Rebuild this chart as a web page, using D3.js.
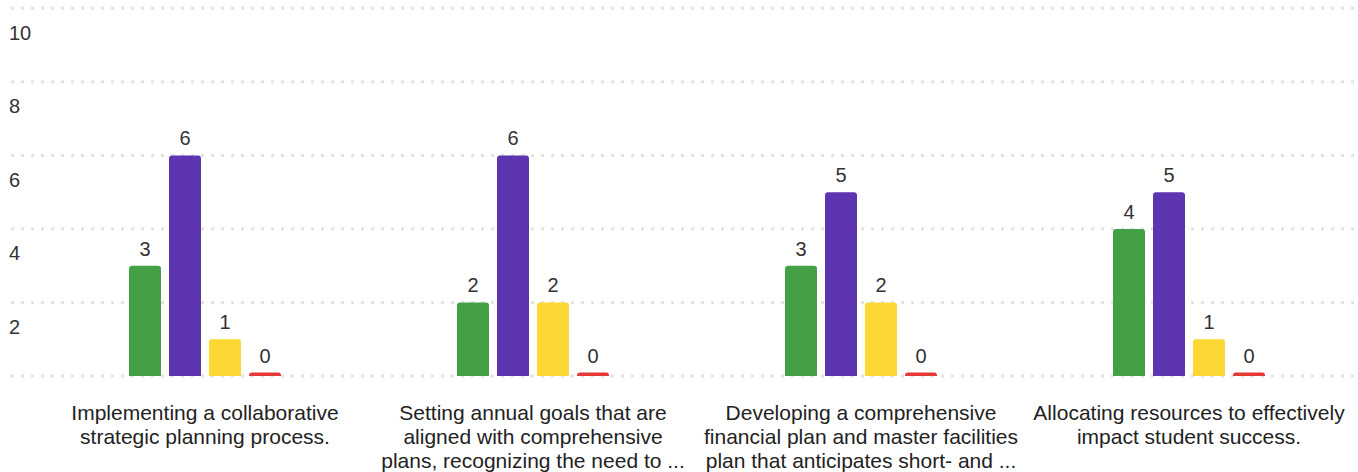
<!DOCTYPE html>
<html><head><meta charset="utf-8">
<script src="https://cdn.jsdelivr.net/npm/d3@7"></script>
<style>body{margin:0;background:#fff;}svg{display:block;font-family:"Liberation Sans",Arial,sans-serif;}</style>
</head><body>
<svg id="c" width="1358" height="472"></svg>
<script>
const categories = [
  ["Implementing a collaborative", "strategic planning process."],
  ["Setting annual goals that are", "aligned with comprehensive", "plans, recognizing the need to ..."],
  ["Developing a comprehensive", "financial plan and master facilities", "plan that anticipates short- and ..."],
  ["Allocating resources to effectively", "impact student success."]
];
const seriesNames = ["s1", "s2", "s3", "s4"];
const seriesColors = ["#43a047", "#5e35b1", "#fdd835", "#e53935"];
const values = [
  [3, 6, 1, 0],
  [2, 6, 2, 0],
  [3, 5, 2, 0],
  [4, 5, 1, 0]
];
const yTicks = [0, 2, 4, 6, 8, 10];

const svg = d3.select("#c");
const x0 = d3.scaleBand().domain(d3.range(categories.length)).range([41, 1353]);
const y = d3.scaleLinear().domain([0, 10]).range([376, 8.3]);
const barW = 32, step = 40;

// gridlines
svg.append("g").selectAll("line").data(yTicks).join("line")
  .attr("x1", 11).attr("x2", 1358)
  .attr("y1", d => y(d)).attr("y2", d => y(d))
  .attr("stroke", "#e3e3e3").attr("stroke-width", 3)
  .attr("stroke-dasharray", "3,7");

// y labels
svg.append("g").selectAll("text").data(yTicks.filter(d => d > 0)).join("text")
  .attr("x", 9).attr("y", d => y(d) + 31.5)
  .attr("font-size", 20).attr("fill", "#333").text(d => d);

function roundTop(x, yTop, w, h, r) {
  r = Math.min(r, h, w / 2);
  const yb = yTop + h;
  return `M${x},${yb}V${yTop + r}Q${x},${yTop} ${x + r},${yTop}H${x + w - r}Q${x + w},${yTop} ${x + w},${yTop + r}V${yb}Z`;
}

const groups = svg.append("g").selectAll("g").data(values).join("g");
groups.each(function(vals, gi) {
  const cx = x0(gi) + x0.bandwidth() / 2;
  const g = d3.select(this);
  vals.forEach((v, si) => {
    const bx = cx - (vals.length * step - (step - barW)) / 2 + si * step;
    const top = v === 0 ? y(0) - 3.5 : y(v);
    const h = y(0) - top;
    g.append("path").attr("d", roundTop(bx, top, barW, h, 3)).attr("fill", seriesColors[si]);
    g.append("text").attr("x", bx + barW / 2).attr("y", top - 10)
      .attr("text-anchor", "middle").attr("font-size", 20).attr("fill", "#333").text(v);
  });
  const t = g.append("text").attr("text-anchor", "middle").attr("font-size", 21).attr("fill", "#222");
  categories[gi].forEach((line, li) => {
    t.append("tspan").attr("x", cx).attr("y", 420 + li * 24).text(line);
  });
});
</script>
</body></html>
